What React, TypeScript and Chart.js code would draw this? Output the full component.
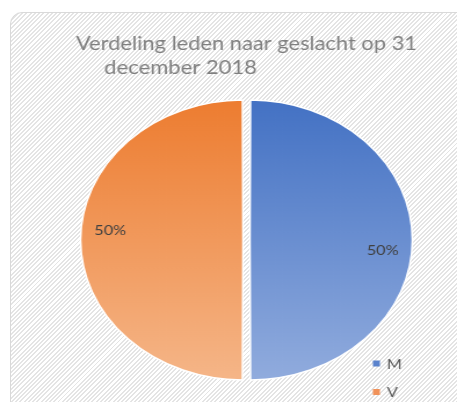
import React, { useEffect, useRef } from "react";
import { Chart, registerables } from "chart.js";

Chart.register(...registerables);

// ---- data ----
const categories = ["M", "V"];
const values = [50, 50];
const titleLines = ["Verdeling leden naar geslacht op 31", "december 2018"];

// ---- styles ----
const topColors = ["#4472C4", "#ED7D31"];
const bottomColors = ["#90ABDD", "#F5B587"];
const legendColors = ["#5A82CC", "#F0925A"];

const SX = 1.16; // horizontal stretch of the original picture
const W = 457;
const H = 402;
const CW = Math.round(W / SX);
const RADIUS = 137;

export default function App() {
  const ref = useRef<HTMLCanvasElement>(null);

  useEffect(() => {
    document.body.style.margin = "0";
    const canvas = ref.current!;

    const sliceLabels = {
      id: "sliceLabels",
      afterDatasetsDraw(chart: any) {
        const ctx = chart.ctx;
        const meta = chart.getDatasetMeta(0);
        const data = chart.data.datasets[0].data as number[];
        const total = data.reduce((a, b) => a + b, 0);
        ctx.save();
        ctx.font = "14px Lato";
        ctx.fillStyle = "#404040";
        ctx.textAlign = "center";
        ctx.textBaseline = "middle";
        meta.data.forEach((arc: any, i: number) => {
          const p = arc.getProps(["x", "y", "startAngle", "endAngle", "outerRadius"], true);
          const a = (p.startAngle + p.endAngle) / 2 + 0.085;
          const r = p.outerRadius * 0.86;
          ctx.fillText(Math.round((data[i] / total) * 100) + "%", p.x + Math.cos(a) * r, p.y + Math.sin(a) * r);
        });
        ctx.restore();
      },
    };

    const cornerLegend = {
      id: "cornerLegend",
      afterDraw(chart: any) {
        const ctx = chart.ctx;
        const labels = chart.data.labels as string[];
        const n = labels.length;
        const x0 = chart.width - 72.5;
        const yLast = chart.height - 10;
        const gap = 28.5;
        ctx.save();
        ctx.font = "14px Lato";
        ctx.textBaseline = "middle";
        ctx.textAlign = "left";
        labels.forEach((lab, i) => {
          const y = yLast - (n - 1 - i) * gap;
          ctx.fillStyle = legendColors[i];
          ctx.fillRect(x0, y - 3, 6, 6);
          ctx.fillStyle = "#595959";
          ctx.fillText(lab, x0 + 12, y + 0.5);
        });
        ctx.restore();
      },
    };

    const chart = new Chart(canvas, {
      type: "pie",
      data: {
        labels: categories,
        datasets: [
          {
            data: values,
            backgroundColor: (c: any) => {
              const i = c.dataIndex ?? 0;
              const area = c.chart.chartArea;
              if (!area) return topColors[i];
              const cy = (area.top + area.bottom) / 2;
              const g = c.chart.ctx.createLinearGradient(0, cy - RADIUS, 0, cy + RADIUS);
              g.addColorStop(0, topColors[i]);
              g.addColorStop(1, bottomColors[i]);
              return g;
            },
            borderColor: "#ffffff",
            borderWidth: 1.5,
            offset: 12,
            radius: RADIUS,
          } as any,
        ],
      },
      options: {
        responsive: false,
        animation: false,
        layout: { padding: { left: 65.5, right: 34.5, top: 20, bottom: 12 } },
        plugins: {
          legend: { display: false },
          tooltip: { enabled: false },
          title: {
            display: true,
            text: [titleLines[0], "     " + titleLines[1]],
            align: "start",
            color: "#7F7F7F",
            font: { family: "Lato", size: 19, weight: "normal", lineHeight: 24 / 19 },
            padding: { top: 12, bottom: 10 },
          },
        },
      } as any,
      plugins: [sliceLabels, cornerLegend],
    });

    return () => chart.destroy();
  }, []);

  const hatch =
    "repeating-linear-gradient(135deg, #ffffff 0px, #ffffff 1.6px, #e4e4e4 1.6px, #e4e4e4 3px)";

  return (
    <div
      style={{
        position: "fixed",
        left: 0,
        top: 0,
        width: W,
        height: H,
        overflow: "hidden",
        background: "#ffffff",
      }}
    >
      <div
        style={{
          position: "absolute",
          left: 10,
          top: 12,
          width: W + 20,
          height: H + 20,
          border: "1.5px solid #d9d9d9",
          borderRadius: 12,
          background: hatch,
        }}
      />
      <canvas
        ref={ref}
        width={CW}
        height={H}
        style={{ position: "absolute", left: 0, top: 0, width: W, height: H }}
      />
    </div>
  );
}
